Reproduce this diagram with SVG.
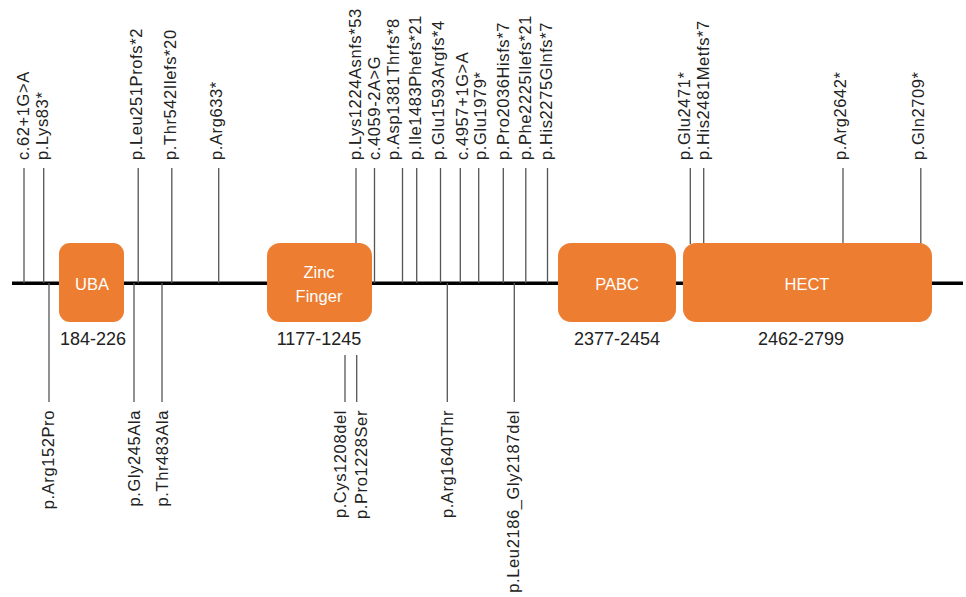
<svg xmlns="http://www.w3.org/2000/svg" width="966" height="597" viewBox="0 0 966 597">
<style>
.bb{stroke:#000;stroke-width:3.5;fill:none}
.ln{stroke:#555;stroke-width:1.3;fill:none}
.box{fill:#ED7D31}
.bt{font-family:"Liberation Sans",Arial,sans-serif;font-size:16.5px;fill:#fff;text-anchor:middle}
.rg{font-family:"Liberation Sans",Arial,sans-serif;font-size:18px;fill:#222;text-anchor:middle}
.lt{font-family:"Liberation Sans",Arial,sans-serif;font-size:16.5px;letter-spacing:0.6px;fill:#222}
.up{text-anchor:start}
.dn{text-anchor:end}
</style>
<rect width="966" height="597" fill="#fff"/>
<g id="connectors">
<line class="bb" x1="12" y1="283.3" x2="963" y2="283.3"/>
<line class="ln" x1="24" y1="168" x2="24" y2="283"/>
<line class="ln" x1="43.7" y1="168" x2="43.7" y2="283"/>
<line class="ln" x1="138.2" y1="168" x2="138.2" y2="283"/>
<line class="ln" x1="171.8" y1="168" x2="171.8" y2="283"/>
<line class="ln" x1="218.7" y1="168" x2="218.7" y2="283"/>
<line class="ln" x1="356" y1="168" x2="356" y2="244"/>
<line class="ln" x1="374.5" y1="168" x2="374.5" y2="283"/>
<line class="ln" x1="402.5" y1="168" x2="402.5" y2="283"/>
<line class="ln" x1="416.7" y1="168" x2="416.7" y2="283"/>
<line class="ln" x1="440.5" y1="168" x2="440.5" y2="283"/>
<line class="ln" x1="460.3" y1="168" x2="460.3" y2="283"/>
<line class="ln" x1="478.7" y1="168" x2="478.7" y2="283"/>
<line class="ln" x1="503.3" y1="168" x2="503.3" y2="283"/>
<line class="ln" x1="525.8" y1="168" x2="525.8" y2="283"/>
<line class="ln" x1="547.5" y1="168" x2="547.5" y2="283"/>
<line class="ln" x1="690.3" y1="168" x2="690.3" y2="244"/>
<line class="ln" x1="703.7" y1="168" x2="703.7" y2="244"/>
<line class="ln" x1="843" y1="168" x2="843" y2="244"/>
<line class="ln" x1="920.8" y1="168" x2="920.8" y2="244"/>
<line class="ln" x1="49" y1="283" x2="49" y2="402"/>
<line class="ln" x1="134" y1="283" x2="134" y2="402"/>
<line class="ln" x1="162" y1="283" x2="162" y2="402"/>
<line class="ln" x1="345" y1="355" x2="345" y2="402"/>
<line class="ln" x1="356.7" y1="355" x2="356.7" y2="402"/>
<line class="ln" x1="447.3" y1="283" x2="447.3" y2="402"/>
<line class="ln" x1="514.3" y1="283" x2="514.3" y2="402"/>
</g>
<g id="uba">
<rect class="box" x="59" y="243" width="65" height="79" rx="11"/>
<text class="bt" x="92" y="290">UBA</text>
<text class="rg" x="93" y="345">184-226</text>
</g>
<g id="zinc-finger">
<rect class="box" x="267" y="243" width="105" height="79" rx="13"/>
<text class="bt" x="319" y="278">Zinc</text>
<text class="bt" x="319" y="302">Finger</text>
<text class="rg" x="319" y="345">1177-1245</text>
</g>
<g id="pabc">
<rect class="box" x="558" y="243" width="118" height="79" rx="13"/>
<text class="bt" x="617" y="290">PABC</text>
<text class="rg" x="617" y="345">2377-2454</text>
</g>
<g id="hect">
<rect class="box" x="683" y="243" width="249" height="79" rx="13"/>
<text class="bt" x="807" y="290">HECT</text>
<text class="rg" x="801" y="345">2462-2799</text>
</g>
<g id="labels-top" class="lt">
<text class="up" transform="translate(29,160) rotate(-90)">c.62+1G&gt;A</text>
<text class="up" transform="translate(48.3,160) rotate(-90)">p.Lys83*</text>
<text class="up" transform="translate(142.3,160) rotate(-90)">p.Leu251Profs*2</text>
<text class="up" transform="translate(175.7,160) rotate(-90)">p.Thr542Ilefs*20</text>
<text class="up" transform="translate(222.3,160) rotate(-90)">p.Arg633*</text>
<text class="up" transform="translate(360.7,160) rotate(-90)">p.Lys1224Asnfs*53</text>
<text class="up" transform="translate(379.8,160) rotate(-90)">c.4059-2A&gt;G</text>
<text class="up" transform="translate(399,160) rotate(-90)">p.Asp1381Thrfs*8</text>
<text class="up" transform="translate(420.7,160) rotate(-90)">p.Ile1483Phefs*21</text>
<text class="up" transform="translate(444,160) rotate(-90)">p.Glu1593Argfs*4</text>
<text class="up" transform="translate(468.3,160) rotate(-90)">c.4957+1G&gt;A</text>
<text class="up" transform="translate(485.7,160) rotate(-90)">p.Glu1979*</text>
<text class="up" transform="translate(509,160) rotate(-90)">p.Pro2036Hisfs*7</text>
<text class="up" transform="translate(530.7,160) rotate(-90)">p.Phe2225Ilefs*21</text>
<text class="up" transform="translate(552.3,160) rotate(-90)">p.His2275Glnfs*7</text>
<text class="up" transform="translate(689.8,160) rotate(-90)">p.Glu2471*</text>
<text class="up" transform="translate(708.7,160) rotate(-90)">p.His2481Metfs*7</text>
<text class="up" transform="translate(845.7,160) rotate(-90)">p.Arg2642*</text>
<text class="up" transform="translate(924,160) rotate(-90)">p.Gln2709*</text>
</g>
<g id="labels-bottom" class="lt">
<text class="dn" transform="translate(54,410) rotate(-90)">p.Arg152Pro</text>
<text class="dn" transform="translate(139.6,410) rotate(-90)">p.Gly245Ala</text>
<text class="dn" transform="translate(168,410) rotate(-90)">p.Thr483Ala</text>
<text class="dn" transform="translate(345.8,410) rotate(-90)">p.Cys1208del</text>
<text class="dn" transform="translate(366.6,410) rotate(-90)">p.Pro1228Ser</text>
<text class="dn" transform="translate(452.5,410) rotate(-90)">p.Arg1640Thr</text>
<text class="dn" transform="translate(519.2,410) rotate(-90)">p.Leu2186_Gly2187del</text>
</g>
</svg>
